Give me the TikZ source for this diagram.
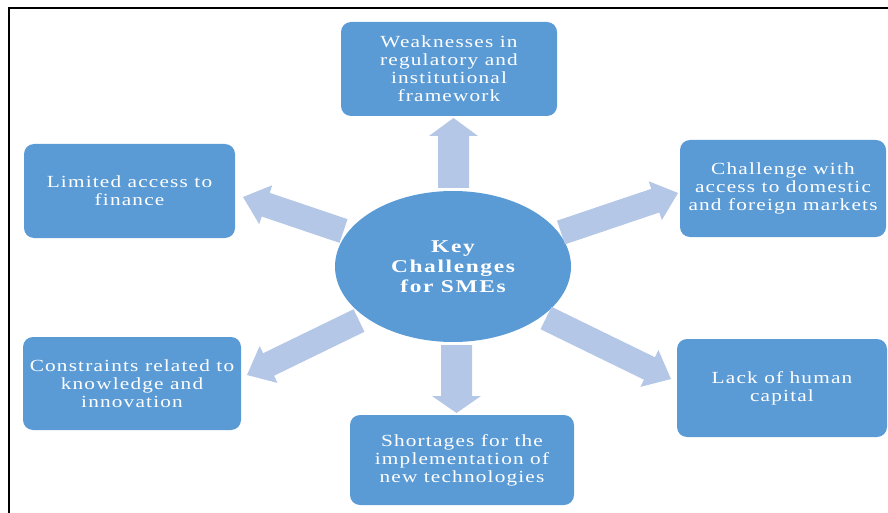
\documentclass[tikz,border=0pt]{standalone}
\usepackage{fontspec}
\usetikzlibrary{calc,shapes.geometric}
\newfontfamily\boxfont[FakeStretch=1.25,LetterSpace=7]{Liberation Serif}
\newfontfamily\corefont[FakeStretch=1.3,LetterSpace=9]{Liberation Serif}
\definecolor{boxblue}{HTML}{5B9BD5}
\definecolor{arrowblue}{HTML}{B4C7E7}

% block arrow from #1 (tail) to #2 (tip): shaft half-width #3, head half-width #4, head length #5
\newcommand\blockarrow[5]{%
  \coordinate (ba-h) at ($(#2)!#5pt!(#1)$);
  \fill[arrowfill]
    ($(#1)!#3pt!90:(#2)$) -- ($(ba-h)!#3pt!90:(#2)$) -- ($(ba-h)!#4pt!90:(#2)$) --
    (#2) --
    ($(ba-h)!#4pt!-90:(#2)$) -- ($(ba-h)!#3pt!-90:(#2)$) -- ($(#1)!#3pt!-90:(#2)$) -- cycle;
}

\tikzset{
  arrowfill/.style={fill=arrowblue},
  topic/.style={rectangle, rounded corners=10pt, fill=boxblue, text=white,
    align=center, inner sep=0pt,
    font=\boxfont\fontsize{17}{18}\selectfont},
  hub/.style={ellipse, fill=boxblue, text=white, align=center, inner sep=0pt,
    minimum width=236pt, minimum height=151pt,
    font=\corefont\bfseries\fontsize{18}{20}\selectfont},
}

\begin{document}
\begin{tikzpicture}[x=1pt,y=-1pt]
\useasboundingbox (0,0) rectangle (888,513);

% frame
\draw[line width=2.2pt] (8.8,513) -- (8.8,8.3) -- (889,8.3);

% centre
\node[hub] (core) at (453,266.5) {Key\\Challenges\\for SMEs};

% surrounding topics
\node[topic, minimum width=216pt, minimum height=94pt] (reg) at (449,69)
  {Weaknesses in\\regulatory and\\institutional\\framework};
\node[topic, minimum width=211pt, minimum height=94pt] (fin) at (129.5,191)
  {Limited access to\\finance};
\node[topic, minimum width=206pt, minimum height=97pt] (mkt) at (783,188.5)
  {Challenge with\\access to domestic\\and foreign markets};
\node[topic, minimum width=218pt, minimum height=93pt] (know) at (132,383.5)
  {Constraints related to\\knowledge and\\innovation};
\node[topic, minimum width=210pt, minimum height=98pt] (hum) at (782,388)
  {Lack of human\\capital};
\node[topic, minimum width=224pt, minimum height=90pt] (tech) at (462,460)
  {Shortages for the\\implementation of\\new technologies};

% arrow ends
\coordinate (up-t) at (453.5,188);   \coordinate (up-h) at (453.5,118);
\coordinate (dn-t) at (456.5,345);   \coordinate (dn-h) at (456.5,413);
\coordinate (lu-t) at (343.5,231);   \coordinate (lu-h) at (243,197);
\coordinate (ru-t) at (561,232.5);   \coordinate (ru-h) at (678,193);
\coordinate (ld-t) at (359,320.5);   \coordinate (ld-h) at (247,375);
\coordinate (rd-t) at (546,318);     \coordinate (rd-h) at (671,379);

\blockarrow{up-t}{up-h}{15.5}{24.5}{18}
\blockarrow{dn-t}{dn-h}{15.5}{24.5}{17}
\blockarrow{lu-t}{lu-h}{12.5}{20.5}{24}
\blockarrow{ru-t}{ru-h}{12.5}{20.5}{24}
\blockarrow{ld-t}{ld-h}{12.5}{20.5}{24}
\blockarrow{rd-t}{rd-h}{12.5}{20.5}{24}
\end{tikzpicture}
\end{document}
